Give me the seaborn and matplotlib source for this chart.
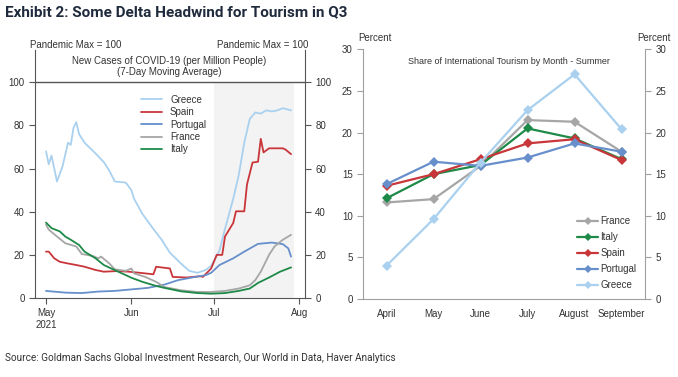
import pandas as pd
import numpy as np
import matplotlib
matplotlib.use("Agg")
import matplotlib.pyplot as plt
from matplotlib.lines import Line2D
import seaborn as sns

# ---- left panel: new cases, index (pandemic max = 100), day offsets from 1 May 2021
greece_days = [0, 1, 2, 4, 6, 8, 9, 10, 11, 12, 14, 18, 21, 23, 25, 29, 31, 32, 35, 39, 42, 45,
               49, 52, 55, 58, 60, 63, 65, 68, 70, 72, 74, 76, 78, 80, 82, 84, 86, 89]
greece_vals = [68, 62, 66, 54, 61, 72, 71, 79, 81.5, 76, 72, 67, 63, 59, 54, 53.5, 50, 46, 39, 32, 27, 21,
               16, 12.6, 11.7, 13, 15, 22, 32, 46, 57, 72, 83, 86, 85.5, 87, 86.5, 87, 88, 87]

spain_days = [0, 1, 3, 5, 8, 11, 14, 18, 21, 26, 30, 34, 39, 40, 45, 46, 51, 56, 57, 60, 62, 64,
              65, 68, 69, 72, 73, 75, 77, 78, 79, 81, 86, 87, 89]
spain_vals = [21.5, 21.5, 18.4, 16.8, 16, 15.3, 14.5, 13, 12.2, 12.5, 12.2, 11.7, 11, 14.5, 13.7, 9.8,
              9.5, 10.1, 9.8, 13.7, 20, 20, 28.5, 34.8, 40.2, 40.2, 52.7, 62.8, 63.2, 73.8, 67.5, 69.4,
              69.4, 68.8, 66.7]

portugal_days = [0, 7, 13, 19, 25, 31, 37, 43, 48, 53, 58, 60, 63, 68, 72, 77, 82, 86, 88, 89]
portugal_vals = [3.3, 2.5, 2.3, 3, 3.3, 4, 4.7, 6.2, 8.3, 9.5, 10.6, 11.7, 15.3, 18.4, 21.5, 25.1,
                 25.7, 25, 23, 19.2]

france_days = [0, 1, 4, 7, 11, 13, 17, 19, 20, 23, 25, 29, 31, 32, 36, 40, 43, 49, 55, 60, 65, 70,
               74, 76, 78, 81, 83, 86, 89]
france_vals = [34, 31.7, 28.5, 25.4, 23.9, 20.4, 19.5, 18.4, 19.2, 16, 13.3, 12.6, 13.7, 11.4, 9.8,
               7.5, 5.1, 3.6, 2.8, 2.8, 3.3, 4.4, 5.9, 8.3, 12.2, 20, 23.9, 27, 29.3]

italy_days = [0, 2, 5, 7, 9, 12, 14, 18, 21, 25, 29, 31, 35, 40, 43, 49, 55, 60, 65, 70, 74, 77,
              81, 85, 89]
italy_vals = [35, 32.4, 30.9, 28.5, 27, 24.6, 21.5, 18.4, 15.3, 12.9, 10.6, 9.4, 7.5, 5.6, 4.7, 3.1,
              2.3, 2, 2.3, 3.3, 4.4, 7, 9.5, 12.2, 14.2]

# ---- right panel: share of international tourism by month (%)
months = ["April", "May", "June", "July", "August", "September"]
france_share = [11.6, 12.0, 16.0, 21.5, 21.3, 17.7]
italy_share = [12.1, 15.0, 16.1, 20.5, 19.3, 16.8]
spain_share = [13.6, 15.0, 16.8, 18.7, 19.2, 16.7]
portugal_share = [13.8, 16.5, 16.0, 17.0, 18.7, 17.7]
greece_share = [4.0, 9.6, 16.4, 22.7, 27.0, 20.4]

colors = {"Greece": "#a9d1ef", "Spain": "#c8363a", "Portugal": "#668fcb",
          "France": "#a6a6a6", "Italy": "#1d8a48"}

start = pd.Timestamp("2021-05-01")
cases = pd.concat([
    pd.DataFrame({"date": start + pd.to_timedelta(d, unit="D"), "value": v, "country": c})
    for c, d, v in [("Greece", greece_days, greece_vals), ("Spain", spain_days, spain_vals),
                    ("Portugal", portugal_days, portugal_vals), ("France", france_days, france_vals),
                    ("Italy", italy_days, italy_vals)]
])
share = pd.concat([
    pd.DataFrame({"month": months, "share": v, "country": c})
    for c, v in [("France", france_share), ("Italy", italy_share), ("Spain", spain_share),
                 ("Portugal", portugal_share), ("Greece", greece_share)]
])

sns.set_style("white")
plt.rcParams["font.family"] = ["Liberation Sans", "DejaVu Sans"]

fig = plt.figure(figsize=(6.78, 3.77), dpi=100)
ax1 = fig.add_axes([0.0516, 0.2095, 0.398, 0.658])
ax2 = fig.add_axes([0.5354, 0.207, 0.416, 0.662])

# left panel
ax1.axvspan(pd.Timestamp("2021-07-01"), pd.Timestamp("2021-07-30"), ymax=100 / 115,
            color="#f3f3f3", lw=0, zorder=0)
ax1.axhline(100, color="#555555", lw=1.0, zorder=1)
sns.lineplot(data=cases, x="date", y="value", hue="country", palette=colors,
             hue_order=["Greece", "Spain", "Portugal", "France", "Italy"], lw=1.3, ax=ax1)
ax1.set_xlim(pd.Timestamp("2021-04-27"), pd.Timestamp("2021-08-03"))
ax1.set_ylim(0, 115)
ax1.set_yticks(range(0, 101, 20))
ax1.set_xticks(pd.to_datetime(["2021-05-01", "2021-06-01", "2021-07-01", "2021-08-01"]))
ax1.set_xticklabels(["May\n2021", "Jun", "Jul", "Aug"])
ax1.set_xlabel("")
ax1.set_ylabel("")
ax1.spines["top"].set_visible(False)
for s in ["left", "right", "bottom"]:
    ax1.spines[s].set_color("#555555")
ax1.tick_params(axis="y", left=True, right=True, labelleft=True, labelright=True,
                length=4, color="#555555", labelsize=7, labelcolor="#333333")
ax1.tick_params(axis="x", bottom=True, length=4, color="#555555", labelsize=7, labelcolor="#333333")
leg = ax1.legend(loc="upper left", bbox_to_anchor=(0.36, 0.855), frameon=False, fontsize=7,
                 handlelength=2.2, labelspacing=0.25)
for t in leg.get_texts():
    t.set_color("#333333")
fig.text(0.044, 0.88, "Pandemic Max = 100", fontsize=7, color="#333333", va="center")
fig.text(0.32, 0.88, "Pandemic Max = 100", fontsize=7, color="#333333", va="center")
fig.text(0.25, 0.824, "New Cases of COVID-19 (per Million People)\n(7-Day Moving Average)",
         fontsize=7, color="#333333", ha="center", va="center", linespacing=1.15)

# right panel
sns.lineplot(data=share, x="month", y="share", hue="country", palette=colors, marker="D",
             markersize=5, markeredgewidth=0, lw=1.6, sort=False, legend=False, ax=ax2)
ax2.set_xlim(-0.5, 5.5)
ax2.set_ylim(0, 30)
ax2.set_yticks(range(0, 31, 5))
ax2.set_xlabel("")
ax2.set_ylabel("")
ax2.spines["top"].set_visible(False)
for s in ["left", "right", "bottom"]:
    ax2.spines[s].set_color("#a0a0a0")
ax2.tick_params(axis="y", left=True, right=True, labelleft=True, labelright=True,
                length=4, color="#a0a0a0", labelsize=7, labelcolor="#333333")
ax2.tick_params(axis="x", bottom=False, labelsize=7, labelcolor="#333333", pad=4)
handles = [Line2D([], [], color=colors[c], marker="D", markersize=4, markeredgewidth=0, lw=1.6)
           for c in ["France", "Italy", "Spain", "Portugal", "Greece"]]
leg2 = ax2.legend(handles, ["France", "Italy", "Spain", "Portugal", "Greece"], loc="lower right",
                  bbox_to_anchor=(1.0, 0.0), frameon=False, fontsize=7, handlelength=2.2,
                  handletextpad=0.2, labelspacing=0.62)
for t in leg2.get_texts():
    t.set_color("#333333")
fig.text(0.528, 0.9, "Percent", fontsize=7, color="#333333", va="center")
fig.text(0.94, 0.9, "Percent", fontsize=7, color="#333333", va="center")
fig.text(0.751, 0.838, "Share of International Tourism by Month - Summer", fontsize=6.5,
         color="#333333", ha="center", va="center")

# header and source
fig.text(0.007, 0.968, "Exhibit 2: Some Delta Headwind for Tourism in Q3", fontsize=11,
         fontweight="bold", color="#1f2a3c", va="center",
         family=["Liberation Sans Narrow", "Roboto", "DejaVu Sans"])
fig.text(0.007, 0.05, "Source: Goldman Sachs Global Investment Research, Our World in Data, Haver Analytics",
         fontsize=7.2, color="#333333", va="center",
         family=["Liberation Sans Narrow", "Roboto", "DejaVu Sans"])

fig.savefig("out.png", dpi=100)
